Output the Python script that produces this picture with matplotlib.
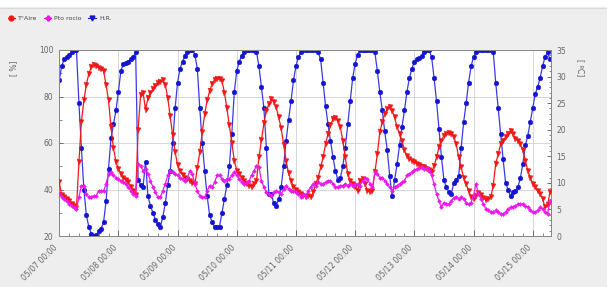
import numpy as np
import pandas as pd
import matplotlib
matplotlib.use("Agg")
import matplotlib.pyplot as plt
import matplotlib.dates as mdates
from matplotlib.lines import Line2D
from matplotlib.patches import Rectangle

# ---------------- data (hourly, starting 05/07 00:00) ----------------
start = "2013-05-07 00:00"

hr = [  # H.R. [%]
    87, 93, 96, 97, 98, 99, 100, 100, 77, 58, 40, 29, 24, 21, 20, 20.5, 22, 23, 26, 35, 49, 62, 68, 74,
    82, 91, 94, 94.5, 95, 96, 97, 99, 44, 42, 41, 52, 37, 33, 30, 27, 25, 24, 28, 34, 42, 48, 60, 75,
    86, 92, 95, 97.5, 99, 100, 100, 98, 92, 75, 60, 48, 37, 29, 26, 24, 24, 24, 30, 36, 42, 50, 64, 82,
    91, 95, 97.5, 99, 100, 100, 100, 100, 99, 93, 84, 75, 58, 38, 38, 34, 33, 36, 41, 50, 61, 70, 78, 87,
    93, 97, 99, 100, 100, 100, 100, 100, 100, 99, 96, 86, 76, 68, 61, 54, 48, 44, 45, 50, 58, 68, 78, 88,
    94, 98, 100, 100, 100, 100, 100, 100, 99, 91, 82, 74, 65, 57, 46, 37, 44, 51, 59, 67, 74, 82, 88, 92,
    95, 96, 96.5, 97.5, 99, 100, 100, 97, 88, 78, 66, 54, 44, 41, 39, 38, 43, 44, 46, 58, 69, 77, 86, 93,
    97, 99, 100, 100, 100, 100, 100, 100, 99, 86, 75, 64, 53, 43, 40, 37, 39, 39.5, 41, 45, 51, 59, 63, 69,
    75, 81, 84, 88, 93, 97, 99, 96,
]

t_aire = [  # T°Aire [ºC]
    10.1, 7.8, 7.3, 6.9, 6.5, 6.0, 5.6, 5.2, 13.9, 21.5, 25.5, 28.5, 30.5, 31.8, 32.2, 32.0, 31.6, 31.4, 31.0, 28.5, 25.5, 20.5, 16.5, 14.0,
    12.6, 11.7, 11.0, 10.5, 10.1, 9.3, 8.4, 7.7, 20.0, 26.5, 27.0, 23.8, 26.0, 27.0, 27.6, 28.3, 28.8, 29.0, 29.3, 28.5, 26.0, 22.5, 19.0, 15.8,
    13.4, 12.2, 11.5, 11.0, 10.7, 10.3, 10.0, 9.7, 12.8, 15.8, 19.5, 23.0, 25.5, 27.3, 28.6, 29.4, 29.6, 29.5, 29.2, 27.0, 24.0, 20.8, 17.5, 14.2,
    12.3, 11.6, 11.0, 10.4, 9.8, 9.5, 9.2, 9.8, 10.4, 14.8, 18.0, 21.2, 23.6, 24.8, 25.8, 25.3, 24.2, 22.3, 20.3, 17.2, 14.2, 11.8, 10.4, 9.3,
    8.6, 8.2, 7.9, 7.6, 7.3, 7.6, 7.3, 8.2, 9.8, 11.0, 12.9, 14.8, 17.3, 19.2, 20.8, 22.0, 22.2, 21.7, 20.5, 17.9, 14.8, 11.7, 10.4, 9.8,
    9.2, 8.5, 10.4, 10.7, 9.8, 8.5, 8.2, 8.5, 12.0, 15.4, 19.6, 21.4, 23.0, 23.9, 24.2, 23.6, 22.3, 20.5, 19.2, 17.9, 16.1, 15.1, 14.5, 14.2,
    13.9, 13.6, 13.4, 13.0, 12.9, 12.6, 12.4, 12.0, 13.2, 14.8, 16.7, 17.9, 18.9, 19.2, 19.3, 19.1, 18.6, 17.3, 14.8, 12.9, 11.0, 9.8, 8.5, 7.3,
    7.0, 7.5, 8.0, 7.8, 7.2, 6.8, 7.0, 7.3, 9.5, 13.6, 15.4, 17.3, 17.9, 18.6, 19.2, 19.7, 19.2, 18.3, 17.9, 17.3, 16.1, 14.2, 12.3, 11.0,
    9.8, 9.2, 8.5, 7.9, 7.0, 5.4, 5.8, 8.2,
]

pto_rocio = [  # Pto rocio [ºC]
    7.9, 7.3, 7.0, 6.6, 6.1, 5.7, 5.4, 5.1, 7.3, 9.5, 9.5, 7.9, 7.3, 7.3, 7.6, 7.6, 8.5, 8.5, 8.5, 9.8, 11.7, 12.0, 11.4, 11.0,
    10.7, 10.4, 10.1, 9.8, 9.2, 8.5, 7.9, 7.6, 13.6, 13.2, 12.3, 12.6, 11.7, 10.4, 9.2, 8.2, 7.3, 7.3, 8.5, 9.8, 11.4, 12.3, 12.0, 11.7,
    11.4, 11.0, 10.7, 10.4, 11.0, 12.3, 11.7, 9.8, 8.5, 7.6, 7.3, 7.3, 8.5, 9.5, 9.2, 10.1, 11.4, 11.4, 10.7, 10.4, 10.7, 10.7, 11.4, 12.0,
    11.4, 10.7, 10.1, 9.8, 10.1, 10.4, 11.4, 12.3, 13.2, 12.9, 10.4, 9.2, 8.2, 7.9, 7.6, 8.2, 8.5, 8.2, 7.9, 8.8, 9.5, 8.8, 8.5, 8.5,
    8.2, 7.9, 7.3, 7.9, 7.6, 8.5, 9.2, 9.8, 9.5, 10.1, 9.8, 9.8, 10.1, 10.4, 10.4, 9.8, 9.2, 9.2, 9.5, 9.5, 9.8, 9.5, 9.8, 9.5,
    9.8, 9.8, 9.5, 10.4, 11.0, 10.7, 9.8, 9.2, 12.0, 11.7, 11.0, 11.0, 10.4, 9.8, 9.2, 8.5, 9.2, 9.5, 9.8, 10.1, 10.4, 11.4, 11.7, 12.0,
    12.4, 12.6, 12.8, 12.9, 12.6, 12.8, 12.3, 11.4, 9.8, 7.9, 6.6, 5.4, 6.3, 6.0, 6.0, 6.6, 7.2, 7.4, 7.0, 7.3, 7.0, 6.3, 6.0, 6.3,
    7.6, 9.8, 7.9, 7.0, 6.0, 5.1, 4.8, 4.5, 4.5, 4.8, 4.5, 4.1, 4.1, 4.5, 5.1, 5.4, 5.4, 5.7, 6.0, 6.0, 6.0, 5.7, 5.4, 4.8,
    4.5, 4.5, 4.8, 5.4, 5.1, 4.5, 4.1, 6.6,
]

x_labels_fmt = "%m/%d %H:%M"
left_label = "[ %]"
right_label = "[ ºC]"
legend_labels = ["T°Aire", "Pto rocio", "H.R."]

# ---------------- figure ----------------
times = pd.date_range(start, periods=len(hr), freq="h")

W, H = 607, 287
fig = plt.figure(figsize=(W / 100, H / 100), dpi=100, facecolor="#eeeeee")
# thin white band at the very top
fig.patches.append(Rectangle((0, 1 - 7 / H), 1, 7 / H, transform=fig.transFigure,
                             facecolor="white", edgecolor="none", zorder=0))
fig.add_artist(Line2D([0, 1], [1 - 7.5 / H, 1 - 7.5 / H], transform=fig.transFigure,
                      color="#d8d8d8", lw=0.8))

L, R, B, T = 59, 551, 236, 50
ax = fig.add_axes([L / W, 1 - B / H, (R - L) / W, (B - T) / H])
ax.set_facecolor("white")
ax2 = ax.twinx()

ax.set_ylim(20, 100)
ax2.set_ylim(0, 35)
x0 = pd.Timestamp(start) - pd.Timedelta(minutes=5)
x1 = pd.Timestamp(start) + pd.Timedelta(hours=199, minutes=25)
ax.set_xlim(x0, x1)

blue = "#1414d2"
red = "#f01818"
mag = "#ee18ee"

ax.plot(times, hr, color="#3a3ae6", lw=0.9, marker="o", ms=3.4, mfc=blue, mec=blue,
        mew=0.3, zorder=3)
ax2.plot(times, t_aire, color=red, lw=0.9, marker="v", ms=3.6, mfc=red, mec=red,
         mew=0.3, zorder=3)
ax2.plot(times, pto_rocio, color=mag, lw=0.9, marker="D", ms=2.0, mfc=mag, mec=mag,
         mew=0.3, zorder=4)

# grid
ax.set_yticks([20, 40, 60, 80, 100])
ax.set_yticks(np.arange(30, 100, 20), minor=True)
ax.grid(True, which="major", axis="both", color="#d0d0d0", lw=0.6)
ax.set_axisbelow(True)

ax2.set_yticks(np.arange(0, 36, 5))
ax2.set_yticks(np.arange(0, 36, 1), minor=True)

ax.xaxis.set_major_locator(mdates.DayLocator())
ax.xaxis.set_major_formatter(mdates.DateFormatter(x_labels_fmt))
ax.xaxis.set_minor_locator(mdates.HourLocator(byhour=[4, 8, 12, 16, 20]))

tick_col = "#555555"
lab_col = "#666666"
ax.tick_params(axis="x", which="major", direction="in", length=4, width=0.6, color=tick_col,
               labelsize=5.5, labelcolor=lab_col, pad=5)
ax.tick_params(axis="x", which="minor", direction="in", length=2.5, width=0.5, color=tick_col)
ax.tick_params(axis="y", which="major", direction="in", length=3, width=0.6, color=tick_col,
               labelsize=5.5, labelcolor=lab_col, pad=4)
ax.tick_params(axis="y", which="minor", direction="in", length=2, width=0.5, color=tick_col)
ax2.tick_params(axis="y", which="major", direction="in", length=3, width=0.6, color=tick_col,
                labelsize=5.5, labelcolor=lab_col, pad=4)
ax2.tick_params(axis="y", which="minor", direction="in", length=1.5, width=0.5, color=tick_col)

for lab in ax.get_xticklabels():
    lab.set_rotation(45)
    lab.set_ha("right")
    lab.set_va("top")

for a in (ax, ax2):
    for s in a.spines.values():
        s.set_color("#888888")
        s.set_linewidth(0.7)

# axis labels
fig.text(14 / W, 1 - 68 / H, left_label, rotation=90, ha="center", va="center",
         fontsize=5.5, color=lab_col)
fig.text(580 / W, 1 - 68 / H, right_label, rotation=-90, ha="center", va="center",
         fontsize=5.5, color=lab_col)

# legend
handles = [
    Line2D([], [], color=red, lw=0.8, marker="o", ms=3.5, mfc=red, mec=red),
    Line2D([], [], color=mag, lw=0.8, marker="P", ms=3.5, mfc=mag, mec=mag),
    Line2D([], [], color=blue, lw=0.8, marker="v", ms=3.5, mfc=blue, mec=blue),
]
fig.legend(handles, legend_labels, loc="center left", bbox_to_anchor=(2 / W, 1 - 18 / H),
           ncol=3, frameon=False, fontsize=4.5, handlelength=1.2, handletextpad=0.5,
           columnspacing=1.0, labelcolor="#444444")

fig.savefig("out.png", dpi=100, facecolor=fig.get_facecolor())
